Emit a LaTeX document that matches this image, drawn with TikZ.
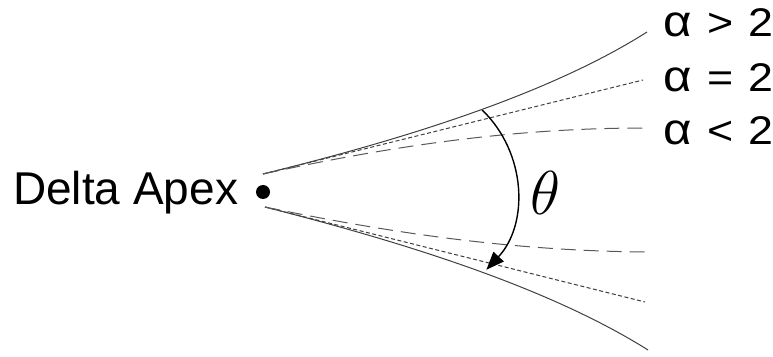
\RequirePackage{fix-cm}
\documentclass[tikz,border=0pt]{standalone}
\usepackage{fontspec}
\setmainfont{Liberation Sans}
\usetikzlibrary{arrows.meta}
\newcommand{\alab}[1]{\scalebox{1.12}[1]{{\fontsize{44}{48}\selectfont α}\hspace{14pt}#1\hspace{13pt}2}}
\begin{document}
\begin{tikzpicture}[x=1pt,y=1pt,
  curve/.style={draw=black!75,line width=1pt},
  shortdash/.style={draw=black!75,line width=1pt,dash pattern=on 4pt off 2.5pt},
  longdash/.style={draw=black!65,line width=1pt,dash pattern=on 15pt off 8pt},
  lbl/.style={anchor=base west,inner sep=0pt,font=\fontsize{40}{44}\selectfont},
  apexlbl/.style={anchor=base west,inner sep=0pt,font=\fontsize{46}{50}\selectfont},
  anglearrow/.style={draw=black,line width=1.4pt,-{Triangle[length=18pt,width=14pt]}}]
\useasboundingbox (0,0) rectangle (773,356);
% apex
\fill (263,164) circle (7);
\node[apexlbl] (apex) at (13,151) {Delta Apex};
% start coordinates
\coordinate (us) at (263,182);
\coordinate (ls) at (265,149);
% end coordinates
\coordinate (ugt) at (647,324);
\coordinate (ueq) at (643,276);
\coordinate (ult) at (645,228);
\coordinate (lgt) at (648,6);
\coordinate (leq) at (645,54);
\coordinate (llt) at (647,104);
% curves
\draw[curve] (us) .. controls (380,211) and (540,256) .. (ugt);
\draw[shortdash] (us) -- (ueq);
\draw[longdash] (us) .. controls (400,212) and (520,228) .. (ult);
\draw[curve] (ls) .. controls (382,119) and (540,74) .. (lgt);
\draw[shortdash] (ls) -- (leq);
\draw[longdash] (ls) .. controls (400,121) and (520,105) .. (llt);
% angle
\coordinate (arcc) at (403,164);
\draw[anglearrow] ([shift={(46:114)}]arcc) arc[start angle=46,end angle=-43,radius=114];
\node[inner sep=0pt,font=\fontsize{62}{66}\selectfont] (theta) at (545,163) {$\theta$};
% labels
\node[lbl] (a1) at (663,319) {\alab{>}};
\node[lbl] (a2) at (663,264) {\alab{=}};
\node[lbl] (a3) at (663,211) {\alab{<}};
\end{tikzpicture}
\end{document}
